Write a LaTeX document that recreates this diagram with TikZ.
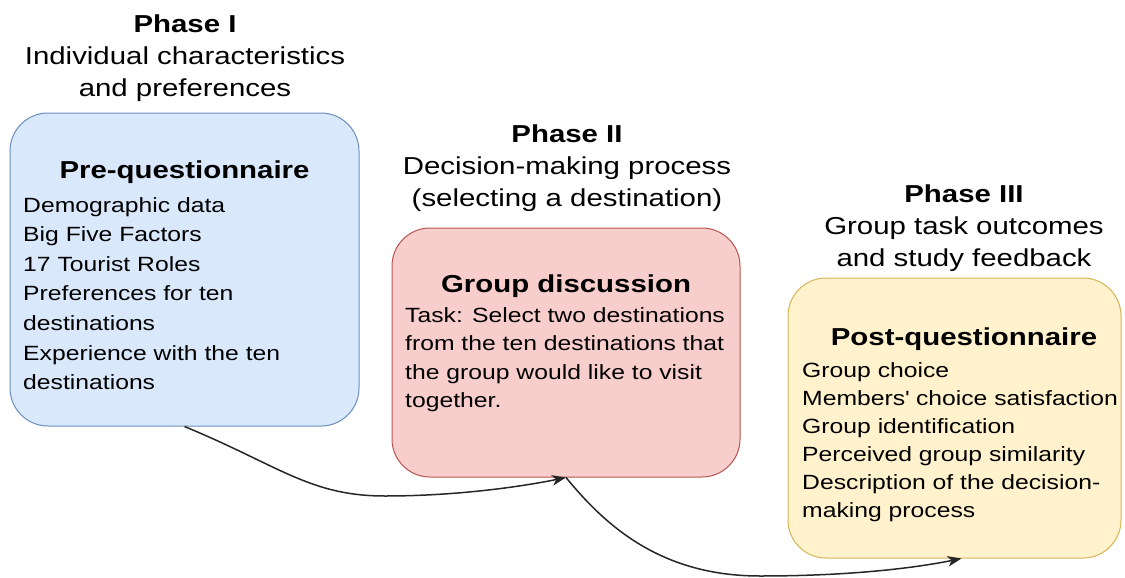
\documentclass[tikz,border=0pt]{standalone}
\usepackage{fontspec}
\setmainfont{Liberation Sans}[FakeStretch=1.2]
\usetikzlibrary{arrows.meta,calc}
\definecolor{bluefill}{HTML}{DAE8FC}
\definecolor{bluedraw}{HTML}{6C8EBF}
\definecolor{redfill}{HTML}{F8CECC}
\definecolor{reddraw}{HTML}{B85450}
\definecolor{yelfill}{HTML}{FFF2CC}
\definecolor{yeldraw}{HTML}{D6B656}
\begin{document}
\begin{tikzpicture}[x=1pt,y=-1pt,
  box/.style={draw, line width=1pt, rounded corners=38pt, inner sep=0pt},
  head/.style={font=\fontsize{24.5}{32}\selectfont, align=center, inner sep=0pt, anchor=north},
  boxtitle/.style={font=\bfseries\fontsize{24.5}{30}\selectfont, inner sep=0pt, anchor=base},
  body/.style={align=left, inner sep=0pt, anchor=north west},
  conn/.style={draw=black!85, line width=1.5pt, -{Stealth[length=14pt,width=10.5pt,inset=4pt]}}
]
\useasboundingbox (0,0) rectangle (1125,578);

% boxes
\node[box, fill=bluefill, draw=bluedraw, minimum width=349pt, minimum height=313pt] (b1) at (184.5,269.5) {};
\node[box, fill=redfill, draw=reddraw, minimum width=348pt, minimum height=249pt] (b2) at (566,352.5) {};
\node[box, fill=yelfill, draw=yeldraw, minimum width=333pt, minimum height=280pt] (b3) at (954.5,418) {};

% phase headings
\node[head] (h1) at (185,15) {\textbf{Phase I}\\Individual characteristics\\and preferences};
\node[head] (h2) at (567,125) {\textbf{Phase II}\\Decision-making process\\(selecting a destination)};
\node[head] (h3) at (964,185) {\textbf{Phase III}\\Group task outcomes\\and study feedback};

% box titles
\node[boxtitle] (t1) at (184.5,178) {Pre-questionnaire};
\node[boxtitle] (t2) at (566,292) {Group discussion};
\node[boxtitle] (t3) at (964,345) {Post-questionnaire};

% box bodies
\node[body, font=\fontsize{20.6}{29.6}\selectfont] (l1) at (23,197) {Demographic data\\Big Five Factors\\17 Tourist Roles\\Preferences for ten\\destinations\\Experience with the ten\\destinations};
\node[body, font=\fontsize{20.6}{28.5}\selectfont] (l2) at (405,307) {Task: Select two destinations\\from the ten destinations that\\the group would like to visit\\together.};
\node[body, font=\fontsize{20.6}{28}\selectfont] (l3) at (802,362) {Group choice\\Members\textquotesingle{} choice satisfaction\\Group identification\\Perceived group similarity\\Description of the decision-\\making process};

% connectors
\coordinate (m1) at (385,496);
\coordinate (m2) at (760,576);
\draw[conn] (b1.south) .. controls (280,466) and (310,496) .. (m1) .. controls (455,496) and (520,487) .. (b2.south);
\draw[conn] (b2.south) .. controls (605,525) and (660,576) .. (m2) .. controls (850,576) and (915,568) .. ($(b3.south)+(7,0)$);
\end{tikzpicture}
\end{document}
